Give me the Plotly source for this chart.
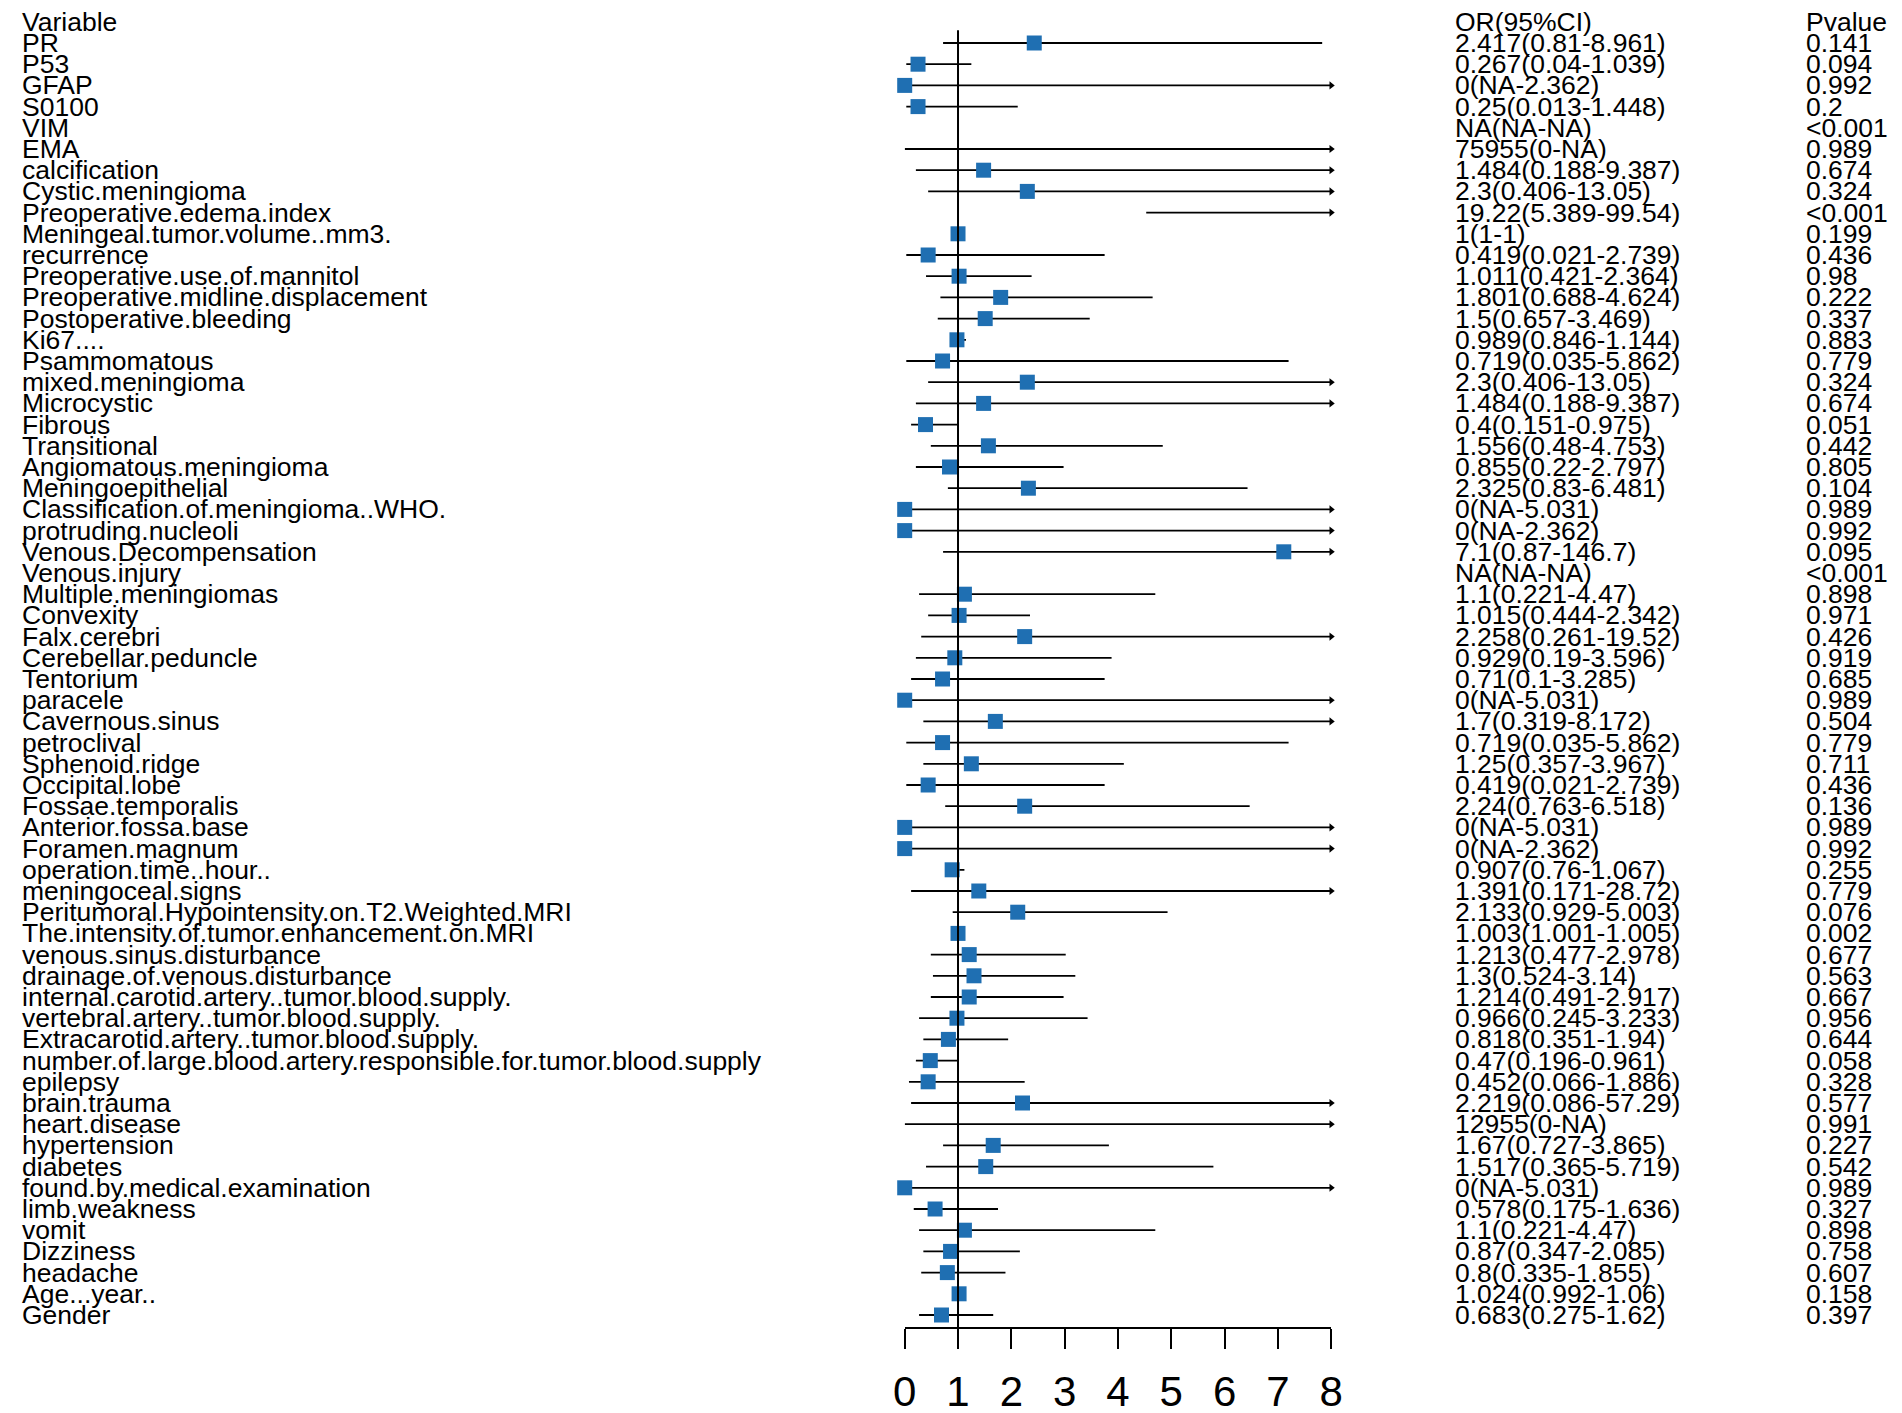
import plotly.graph_objects as go

# forest plot of univariate logistic regression results
variables = [
    "PR", "P53", "GFAP", "S0100", "VIM", "EMA", "calcification", "Cystic.meningioma",
    "Preoperative.edema.index", "Meningeal.tumor.volume..mm3.", "recurrence",
    "Preoperative.use.of.mannitol", "Preoperative.midline.displacement",
    "Postoperative.bleeding", "Ki67....", "Psammomatous", "mixed.meningioma",
    "Microcystic", "Fibrous", "Transitional", "Angiomatous.meningioma",
    "Meningoepithelial", "Classification.of.meningioma..WHO.", "protruding.nucleoli",
    "Venous.Decompensation", "Venous.injury", "Multiple.meningiomas", "Convexity",
    "Falx.cerebri", "Cerebellar.peduncle", "Tentorium", "paracele", "Cavernous.sinus",
    "petroclival", "Sphenoid.ridge", "Occipital.lobe", "Fossae.temporalis",
    "Anterior.fossa.base", "Foramen.magnum", "operation.time..hour..",
    "meningoceal.signs", "Peritumoral.Hypointensity.on.T2.Weighted.MRI",
    "The.intensity.of.tumor.enhancement.on.MRI", "venous.sinus.disturbance",
    "drainage.of.venous.disturbance", "internal.carotid.artery..tumor.blood.supply.",
    "vertebral.artery..tumor.blood.supply.", "Extracarotid.artery..tumor.blood.supply.",
    "number.of.large.blood.artery.responsible.for.tumor.blood.supply", "epilepsy",
    "brain.trauma", "heart.disease", "hypertension", "diabetes",
    "found.by.medical.examination", "limb.weakness", "vomit", "Dizziness", "headache",
    "Age...year..", "Gender",
]

or_ci = [
    "2.417(0.81-8.961)", "0.267(0.04-1.039)", "0(NA-2.362)", "0.25(0.013-1.448)",
    "NA(NA-NA)", "75955(0-NA)", "1.484(0.188-9.387)", "2.3(0.406-13.05)",
    "19.22(5.389-99.54)", "1(1-1)", "0.419(0.021-2.739)", "1.011(0.421-2.364)",
    "1.801(0.688-4.624)", "1.5(0.657-3.469)", "0.989(0.846-1.144)",
    "0.719(0.035-5.862)", "2.3(0.406-13.05)", "1.484(0.188-9.387)",
    "0.4(0.151-0.975)", "1.556(0.48-4.753)", "0.855(0.22-2.797)",
    "2.325(0.83-6.481)", "0(NA-5.031)", "0(NA-2.362)", "7.1(0.87-146.7)",
    "NA(NA-NA)", "1.1(0.221-4.47)", "1.015(0.444-2.342)", "2.258(0.261-19.52)",
    "0.929(0.19-3.596)", "0.71(0.1-3.285)", "0(NA-5.031)", "1.7(0.319-8.172)",
    "0.719(0.035-5.862)", "1.25(0.357-3.967)", "0.419(0.021-2.739)",
    "2.24(0.763-6.518)", "0(NA-5.031)", "0(NA-2.362)", "0.907(0.76-1.067)",
    "1.391(0.171-28.72)", "2.133(0.929-5.003)", "1.003(1.001-1.005)",
    "1.213(0.477-2.978)", "1.3(0.524-3.14)", "1.214(0.491-2.917)",
    "0.966(0.245-3.233)", "0.818(0.351-1.94)", "0.47(0.196-0.961)",
    "0.452(0.066-1.886)", "2.219(0.086-57.29)", "12955(0-NA)", "1.67(0.727-3.865)",
    "1.517(0.365-5.719)", "0(NA-5.031)", "0.578(0.175-1.636)", "1.1(0.221-4.47)",
    "0.87(0.347-2.085)", "0.8(0.335-1.855)", "1.024(0.992-1.06)", "0.683(0.275-1.62)",
]

pvalues = [
    "0.141", "0.094", "0.992", "0.2", "<0.001", "0.989", "0.674", "0.324", "<0.001",
    "0.199", "0.436", "0.98", "0.222", "0.337", "0.883", "0.779", "0.324", "0.674",
    "0.051", "0.442", "0.805", "0.104", "0.989", "0.992", "0.095", "<0.001", "0.898",
    "0.971", "0.426", "0.919", "0.685", "0.989", "0.504", "0.779", "0.711", "0.436",
    "0.136", "0.989", "0.992", "0.255", "0.779", "0.076", "0.002", "0.677", "0.563",
    "0.667", "0.956", "0.644", "0.058", "0.328", "0.577", "0.991", "0.227", "0.542",
    "0.989", "0.327", "0.898", "0.758", "0.607", "0.158", "0.397",
]

# box positions and whisker ends as drawn on the 0-8 axis (None = not drawn)
box = [
    2.43, 0.25, 0.0, 0.25, None, None, 1.48, 2.3, None, 1.0, 0.44, 1.02, 1.8, 1.51,
    0.98, 0.71, 2.3, 1.48, 0.39, 1.57, 0.84, 2.32, 0.0, 0.0, 7.11, None, 1.12, 1.02,
    2.25, 0.94, 0.71, 0.0, 1.7, 0.71, 1.25, 0.44, 2.25, 0.0, 0.0, 0.89, 1.39, 2.12,
    1.0, 1.21, 1.3, 1.21, 0.98, 0.82, 0.48, 0.44, 2.21, None, 1.66, 1.52, 0.0, 0.57,
    1.12, 0.86, 0.8, 1.02, 0.69,
]
lower = [
    0.72, 0.03, 0.0, 0.03, None, 0.0, 0.21, 0.44, 4.53, None, 0.03, 0.4, 0.67, 0.62,
    0.94, 0.03, 0.44, 0.21, 0.12, 0.49, 0.21, 0.81, 0.0, 0.0, 0.72, None, 0.27, 0.44,
    0.31, 0.21, 0.12, 0.0, 0.35, 0.03, 0.35, 0.03, 0.76, 0.0, 0.0, 0.78, 0.12, 0.9,
    None, 0.49, 0.53, 0.49, 0.27, 0.35, 0.21, 0.08, 0.12, 0.0, 0.72, 0.4, 0.0, 0.17,
    0.27, 0.35, 0.31, None, 0.27,
]
upper = [
    7.83, 1.25, 8.0, 2.12, None, 8.0, 8.0, 8.0, 8.0, None, 3.75, 2.38, 4.65, 3.47,
    1.15, 7.2, 8.0, 8.0, 0.99, 4.84, 2.98, 6.43, 8.0, 8.0, 8.0, None, 4.7, 2.35,
    8.0, 3.88, 3.75, 8.0, 8.0, 7.2, 4.11, 3.75, 6.47, 8.0, 8.0, 1.12, 8.0, 4.93,
    None, 3.02, 3.2, 2.98, 3.43, 1.94, 0.99, 2.25, 8.0, 8.0, 3.83, 5.79, 8.0, 1.75,
    4.7, 2.16, 1.89, None, 1.66,
]
# whisker runs past the axis end -> arrow at 8
arrow = [
    0, 0, 1, 0, 0, 1, 1, 1, 1, 0, 0, 0, 0, 0, 0, 0, 1, 1, 0, 0, 0, 0, 1, 1, 1, 0, 0,
    0, 1, 0, 0, 1, 1, 0, 0, 0, 0, 1, 1, 0, 1, 0, 0, 0, 0, 0, 0, 0, 0, 0, 1, 1, 0, 0,
    1, 0, 0, 0, 0, 0, 0,
]

x_ticks = [0, 1, 2, 3, 4, 5, 6, 7, 8]
ref_line = 1

W, H = 1902, 1413
FONT = "Liberation Sans, Arial, Helvetica, sans-serif"
BOX_COLOR = "#1f6fb2"

# figure pixel positions (page adds an 8px body margin)
COL_VAR, COL_OR, COL_P = 0, 1451, 1807
PLOT_X0, PLOT_X1 = 896, 1328
ROW0, ROW_STEP = 13.8, 21.2        # header centre and row pitch
AXIS_Y = 1319

rows = list(range(1, len(variables) + 1))

fig = go.Figure()

# whiskers
lx, ly = [], []
for r, lo, hi in zip(rows, lower, upper):
    if lo is None:
        continue
    lx += [lo, hi, None]
    ly += [r, r, None]
fig.add_trace(go.Scatter(x=lx, y=ly, mode="lines",
                         line=dict(color="black", width=1.8),
                         hoverinfo="skip", cliponaxis=False))

# arrow heads
ax = [hi for hi, a in zip(upper, arrow) if a]
ay = [r for r, a in zip(rows, arrow) if a]
fig.add_trace(go.Scatter(x=ax, y=ay, mode="markers",
                         marker=dict(symbol="triangle-right", size=7, color="black"),
                         hoverinfo="skip", cliponaxis=False))

# reference line at OR = 1
y_bottom = (AXIS_Y - ROW0) / ROW_STEP
fig.add_shape(type="line", x0=ref_line, x1=ref_line, y0=0.4, y1=y_bottom,
              xref="x", yref="y", line=dict(color="black", width=2))

# point estimates
bx = [b for b in box if b is not None]
by = [r for r, b in zip(rows, box) if b is not None]
fig.add_trace(go.Scatter(x=bx, y=by, mode="markers",
                         marker=dict(symbol="square", size=15, color=BOX_COLOR,
                                     line=dict(width=0)),
                         cliponaxis=False,
                         hovertemplate="OR %{x}<extra></extra>"))

# text columns
cols = [(COL_VAR, "Variable", variables), (COL_OR, "OR(95%CI)", or_ci), (COL_P, "Pvalue", pvalues)]
for px, head, vals in cols:
    for r, t in zip([0] + rows, [head] + vals):
        fig.add_annotation(x=px / W, y=r, xref="paper", yref="y", text=t,
                           showarrow=False, xanchor="left", yanchor="middle",
                           font=dict(family=FONT, size=26.5, color="black"))

fig.update_layout(
    width=W, height=H,
    margin=dict(l=0, r=0, t=0, b=0),
    paper_bgcolor="white", plot_bgcolor="white",
    showlegend=False,
    xaxis=dict(domain=[PLOT_X0 / W, PLOT_X1 / W], range=[0, 8], tickvals=x_ticks,
               ticks="outside", ticklen=20, tickwidth=2, tickcolor="black",
               showline=True, linewidth=2, linecolor="black",
               showgrid=False, zeroline=False, ticklabelstandoff=7,
               tickfont=dict(family=FONT, size=42, color="black")),
    yaxis=dict(domain=[(H - AXIS_Y) / H, 1], range=[y_bottom, -ROW0 / ROW_STEP],
               visible=False, showgrid=False, zeroline=False),
)

fig.write_html("out.html")
